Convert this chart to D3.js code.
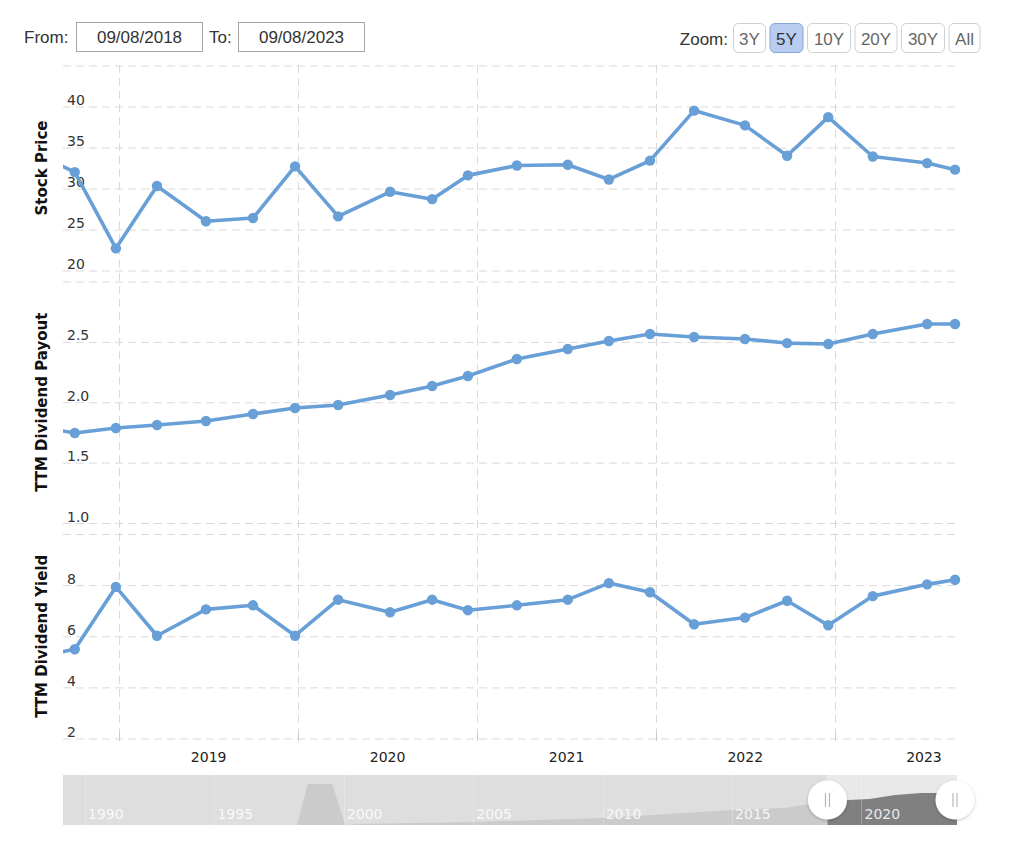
<!DOCTYPE html>
<html>
<head>
<meta charset="utf-8">
<script src="https://cdn.jsdelivr.net/npm/d3@7"></script>
<style>
  html, body { margin: 0; padding: 0; background: #fff; }
  svg { display: block; }
</style>
</head>
<body>
<svg id="chart" width="1024" height="854"></svg>
<script>
// ---------------- DATA ----------------
const dates = ["2018-06-30","2018-10-02","2018-12-25","2019-03-19","2019-06-27","2019-10-01","2019-12-26",
  "2020-03-23","2020-07-07","2020-10-01","2020-12-13","2021-03-23","2021-07-05","2021-09-27","2021-12-20",
  "2022-03-20","2022-07-02","2022-09-26","2022-12-19","2023-03-20","2023-07-09","2023-09-04"];
const stockPrice = [34.7, 32.0, 22.7, 30.3, 26.0, 26.4, 32.7, 26.6, 29.6, 28.7, 31.6, 32.8, 32.9, 31.1, 33.4,
  39.5, 37.7, 34.0, 38.7, 33.9, 33.1, 32.3];
const dividendPayout = [1.81, 1.745, 1.787, 1.812, 1.845, 1.903, 1.952, 1.977, 2.06, 2.135, 2.217, 2.358, 2.441,
  2.507, 2.565, 2.54, 2.524, 2.49, 2.482, 2.565, 2.648, 2.648];
const dividendYield = [5.13, 5.49, 7.93, 6.02, 7.05, 7.21, 6.02, 7.43, 6.94, 7.43, 7.02, 7.21, 7.43, 8.08, 7.72,
  6.47, 6.73, 7.39, 6.43, 7.57, 8.03, 8.21];

const priceTicks = [20, 25, 30, 35, 40, 45];
const payoutTicks = [1.0, 1.5, 2.0, 2.5, 3.0];
const yieldTicks = [2, 4, 6, 8, 10];
const yearLabels = [2019, 2020, 2021, 2022, 2023];

const fromDate = "09/08/2018";
const toDate = "09/08/2023";
const zoomButtons = ["3Y", "5Y", "10Y", "20Y", "30Y", "All"];
const selectedZoom = "5Y";

// navigator (full history) series
const navYears = [1989.15, 1998.2, 1998.6, 1999.55, 2000.05, 2000.5, 2005, 2010, 2015, 2017, 2017.8, 2018.6,
  2019.5, 2020.3, 2021.3, 2022.3, 2023, 2023.69];
const navValues = [0, 0, 41, 41, 0, 1, 3, 7, 15, 17, 20, 24, 25, 26, 30, 32, 32, 31];
const navLabels = [1990, 1995, 2000, 2005, 2010, 2015, 2020];

// ---------------- LAYOUT ----------------
const svg = d3.select("#chart");
const L = 63, R = 957;
const parse = d3.timeParse("%Y-%m-%d");
const series = dates.map(parse);
const x = d3.scaleTime().domain([parse("2018-09-08"), parse("2023-09-08")]).range([L, R]);
const BLUE = "#689fd7";
const GRID = "#dadada";
const FONT = "'DejaVu Sans', Verdana, sans-serif";
const HFONT = "'Liberation Sans', Arial, sans-serif";

const defs = svg.append("defs");
defs.append("clipPath").attr("id", "plotclip").append("rect")
  .attr("x", L).attr("y", 40).attr("width", R - L + 8).attr("height", 720);
const sh = defs.append("filter").attr("id", "shadow").attr("x", "-50%").attr("y", "-50%").attr("width", "200%").attr("height", "200%");
sh.append("feDropShadow").attr("dx", 0).attr("dy", 1).attr("stdDeviation", 1.6).attr("flood-color", "#000").attr("flood-opacity", 0.25);

// ---------------- HEADER ----------------
const hdr = svg.append("g").attr("font-family", HFONT).attr("font-size", 17).attr("fill", "#333");
hdr.append("text").attr("x", 24).attr("y", 43).text("From:");
hdr.append("rect").attr("x", 76.5).attr("y", 22.5).attr("width", 126).attr("height", 29).attr("fill", "#fff").attr("stroke", "#a6a6a6");
hdr.append("text").attr("x", 139.5).attr("y", 43).attr("text-anchor", "middle").text(fromDate);
hdr.append("text").attr("x", 209).attr("y", 43).text("To:");
hdr.append("rect").attr("x", 238.5).attr("y", 22.5).attr("width", 126).attr("height", 29).attr("fill", "#fff").attr("stroke", "#a6a6a6");
hdr.append("text").attr("x", 301.5).attr("y", 43).attr("text-anchor", "middle").text(toDate);

hdr.append("text").attr("x", 728).attr("y", 45).attr("text-anchor", "end").text("Zoom:");
const btnW = [33, 34, 44, 43, 44, 32];
let bx = 733;
zoomButtons.forEach((b, i) => {
  const sel = b === selectedZoom;
  hdr.append("rect").attr("x", bx + 0.5).attr("y", 23.5).attr("width", btnW[i] - 1).attr("height", 29)
    .attr("rx", 5).attr("fill", sel ? "#b8cdf0" : "#fff").attr("stroke", sel ? "#87a4d4" : "#cfcfcf");
  hdr.append("text").attr("x", bx + btnW[i] / 2).attr("y", 45).attr("text-anchor", "middle")
    .attr("fill", sel ? "#333" : "#666").text(b);
  bx += btnW[i] + 3.5;
});

// ---------------- PANELS ----------------
const panels = [
  { title: "Stock Price", values: stockPrice, ticks: priceTicks, domain: [20, 45], range: [270.5, 65.5], fmt: d3.format("d") },
  { title: "TTM Dividend Payout", values: dividendPayout, ticks: payoutTicks, domain: [1, 3], range: [523, 281.5], fmt: d3.format(".1f") },
  { title: "TTM Dividend Yield", values: dividendYield, ticks: yieldTicks, domain: [2, 10], range: [738.5, 534], fmt: d3.format("d") }
];

// vertical grid lines at year boundaries
const yearBounds = yearLabels.map(yr => new Date(yr, 0, 1));
const vg = svg.append("g");
vg.selectAll("line.vg").data(yearBounds).join("line")
  .attr("x1", d => Math.round(x(d)) + 0.5).attr("x2", d => Math.round(x(d)) + 0.5)
  .attr("y1", 65).attr("y2", 739)
  .attr("stroke", GRID).attr("stroke-dasharray", "8,5");
vg.selectAll("line.tk").data(yearBounds).join("line")
  .attr("x1", d => Math.round(x(d)) + 0.5).attr("x2", d => Math.round(x(d)) + 0.5)
  .attr("y1", 733).attr("y2", 741)
  .attr("stroke", "#c8c8c8");

panels.forEach(p => {
  const y = d3.scaleLinear().domain(p.domain).range(p.range);
  const ax = svg.append("g").attr("transform", `translate(${L},0)`)
    .call(d3.axisRight(y).tickValues(p.ticks).tickSize(R - L - 2).tickFormat(p.fmt));
  ax.select(".domain").remove();
  ax.selectAll(".tick line").attr("stroke", GRID).attr("stroke-dasharray", "8,5");
  ax.selectAll(".tick text")
    .attr("x", 4).attr("dy", null).attr("y", -2)
    .attr("font-family", FONT).attr("font-size", 14).attr("fill", "#333")
    .attr("text-anchor", "start")
    .style("display", (d, i) => i === p.ticks.length - 1 ? "none" : null);

  const cy = (p.range[0] + p.range[1]) / 2;
  svg.append("text")
    .attr("transform", `translate(47,${cy}) rotate(-90)`)
    .attr("text-anchor", "middle").attr("font-family", FONT).attr("font-weight", "bold")
    .attr("font-size", 15).attr("fill", "#111").text(p.title);

  const g = svg.append("g").attr("clip-path", "url(#plotclip)");
  const line = d3.line().x((d, i) => x(series[i])).y(d => y(d));
  g.append("path").datum(p.values).attr("d", line)
    .attr("fill", "none").attr("stroke", BLUE).attr("stroke-width", 3.6)
    .attr("stroke-linejoin", "round").attr("stroke-linecap", "round");
  g.selectAll("circle").data(p.values.map((v, i) => [series[i], v]).filter(d => d[0] >= x.domain()[0]))
    .join("circle").attr("cx", d => x(d[0])).attr("cy", d => y(d[1])).attr("r", 5.2).attr("fill", BLUE);
});

// x-axis labels (centred in each year)
svg.append("g").selectAll("text").data(yearLabels).join("text")
  .attr("x", yr => (x(new Date(yr, 0, 1)) + x(new Date(yr + 1, 0, 1))) / 2)
  .attr("y", 762).attr("text-anchor", "middle")
  .attr("font-family", FONT).attr("font-size", 14).attr("fill", "#222").text(d => d);

// ---------------- NAVIGATOR ----------------
const nTop = 775, nBot = 825;
const nx = d3.scaleLinear().domain([1989.15, 2023.69]).range([L, R]);
const ny = d3.scaleLinear().domain([0, 50]).range([nBot, nTop]);
const toYear = d => d.getFullYear() + (d3.timeDay.count(d3.timeYear.floor(d), d)) / 365.25;
const selA = nx(toYear(x.domain()[0])), selB = R;
const nav = svg.append("g");
defs.append("clipPath").attr("id", "navOut").append("rect").attr("x", L).attr("y", nTop).attr("width", selA - L).attr("height", nBot - nTop);
defs.append("clipPath").attr("id", "navIn").append("rect").attr("x", selA).attr("y", nTop).attr("width", selB - selA).attr("height", nBot - nTop);

nav.append("rect").attr("x", L).attr("y", nTop).attr("width", selA - L).attr("height", nBot - nTop).attr("fill", "#dedede");
nav.append("rect").attr("x", selA).attr("y", nTop).attr("width", selB - selA).attr("height", nBot - nTop).attr("fill", "#e9e9e9");
const area = d3.area().x((d, i) => nx(navYears[i])).y0(nBot).y1(d => ny(d));
nav.append("path").datum(navValues).attr("d", area).attr("fill", "#cbcbcb").attr("clip-path", "url(#navOut)");
nav.append("path").datum(navValues).attr("d", area).attr("fill", "#808080").attr("clip-path", "url(#navIn)");
nav.selectAll("line.ng").data(navLabels).join("line")
  .attr("x1", d => Math.round(nx(d)) + 0.5).attr("x2", d => Math.round(nx(d)) + 0.5)
  .attr("y1", nTop).attr("y2", nBot).attr("stroke", "#fff").attr("stroke-opacity", 0.25);
nav.selectAll("text").data(navLabels).join("text")
  .attr("x", d => nx(d) + 3).attr("y", 819)
  .attr("font-family", FONT).attr("font-size", 14).attr("fill", "#fff").attr("fill-opacity", 0.85).text(d => d);

[selA, selB - 2].forEach(hx => {
  const h = nav.append("g").attr("transform", `translate(${hx},800)`);
  h.append("circle").attr("r", 19.5).attr("fill", "#fff").attr("filter", "url(#shadow)");
  h.append("line").attr("x1", -2).attr("x2", -2).attr("y1", -7).attr("y2", 7).attr("stroke", "#aaa").attr("stroke-width", 1);
  h.append("line").attr("x1", 2).attr("x2", 2).attr("y1", -7).attr("y2", 7).attr("stroke", "#aaa").attr("stroke-width", 1);
});
</script>
</body>
</html>
